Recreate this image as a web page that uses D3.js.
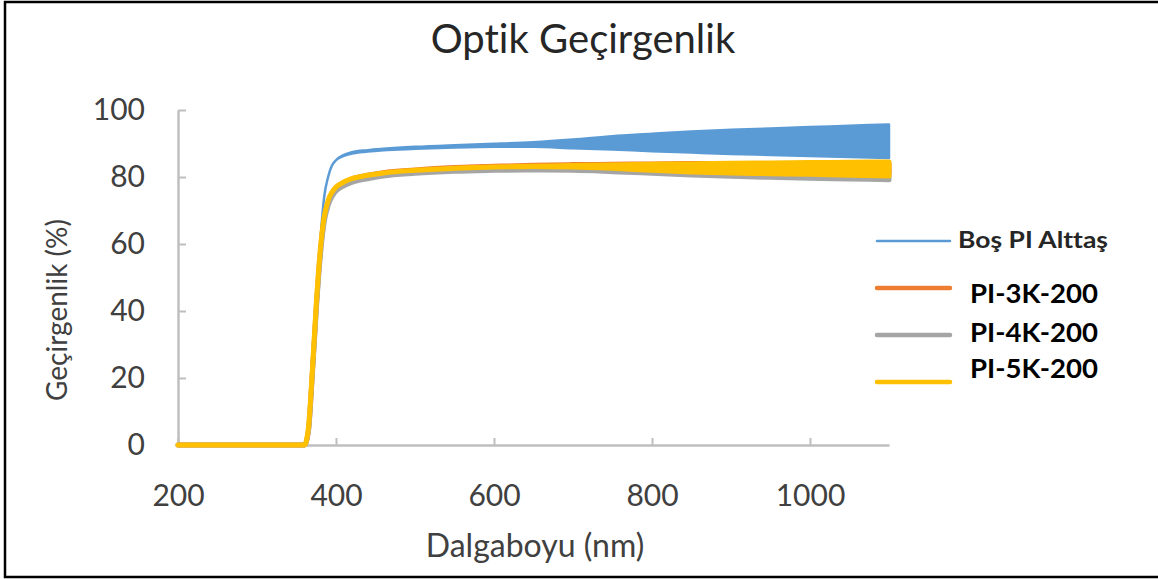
<!DOCTYPE html>
<html>
<head>
<meta charset="utf-8">
<script src="https://cdn.jsdelivr.net/npm/d3@7"></script>
<style>
  html, body { margin: 0; padding: 0; background: #fff; }
  svg { display: block; font-family: Lato, "Open Sans", sans-serif; font-variant-ligatures: none; }
</style>
</head>
<body>
<svg id="chart" width="1158" height="579"></svg>
<script>
// Wavelength samples (nm)
const wavelengths = [200, 360, 365, 370, 375, 380, 385, 390, 395, 400, 410, 420, 440, 460, 500, 550, 600, 650, 700, 750, 800, 850, 900, 950, 1000, 1050, 1100];

// Transmittance (%) as lower / upper envelope of the interference fringes
const bosLo = [0, 0, 3, 20, 40, 60, 74, 80, 83.5, 85, 86.3, 87.0, 87.6, 88.0, 88.4, 88.8, 89.0, 89.0, 88.6, 88.2, 87.7, 87.3, 86.9, 86.6, 86.3, 86.0, 85.7];
const bosHi = [0, 0, 3, 20, 40, 60, 74, 80, 83.5, 85, 86.6, 87.4, 88.0, 88.4, 89.0, 89.5, 89.9, 90.4, 91.2, 92.2, 92.9, 93.6, 94.1, 94.5, 94.9, 95.3, 95.7];

const pi3kLo = [0, 0, 4, 21, 41, 57, 67.5, 72.5, 75.2, 76.8, 78.4, 79.4, 80.5, 81.3, 82.1, 82.8, 83.2, 83.4, 83.4, 83.2, 82.8, 82.4, 82.0, 81.8, 81.6, 81.4, 81.2];
const pi3kHi = [0, 0, 4, 21, 41, 57, 67.5, 72.5, 75.2, 76.8, 78.4, 79.4, 80.5, 81.3, 82.1, 82.8, 83.2, 83.5, 83.7, 83.8, 83.9, 84.0, 84.0, 84.0, 84.0, 84.0, 84.0];

const pi4kLo = [0, 0, 4, 21, 40, 56, 66.5, 71.5, 74.2, 75.8, 77.4, 78.4, 79.5, 80.3, 81.1, 81.7, 82.0, 82.1, 82.0, 81.6, 81.1, 80.6, 80.2, 79.9, 79.6, 79.4, 79.2];
const pi4kHi = [0, 0, 4, 21, 40, 56, 66.5, 71.5, 74.2, 75.8, 77.4, 78.4, 79.5, 80.3, 81.1, 81.7, 82.0, 82.2, 82.3, 82.4, 82.4, 82.4, 82.3, 82.3, 82.2, 82.2, 82.2];

const pi5kLo = [0, 0, 5, 22, 42, 58, 68, 73, 75.5, 77, 78.5, 79.5, 80.5, 81.2, 82.0, 82.6, 83.0, 83.1, 83.0, 82.6, 82.0, 81.5, 81.2, 81.0, 80.8, 80.5, 80.3];
const pi5kHi = [0, 0, 5, 22, 42, 58, 68, 73, 75.5, 77, 78.5, 79.5, 80.5, 81.2, 82.0, 82.6, 83.0, 83.2, 83.4, 83.6, 83.8, 83.9, 84.1, 84.2, 84.3, 84.4, 84.5];

const seriesNames = ["Boş PI Alttaş", "PI-3K-200", "PI-4K-200", "PI-5K-200"];
const seriesColors = ["#5B9BD5", "#ED7D31", "#A5A5A5", "#FFC000"];
const xTicks = [200, 400, 600, 800, 1000];
const yTicks = [0, 20, 40, 60, 80, 100];

const svg = d3.select("#chart");

// Outer frame
svg.append("path")
  .attr("d", "M1158,2 L5,2 L5,577 L1158,577")
  .attr("fill", "none").attr("stroke", "#000").attr("stroke-width", 2.5);

const x = d3.scaleLinear().domain([200, 1100]).range([178, 889]);
const y = d3.scaleLinear().domain([0, 100]).range([445, 110]);

// Axes
const xAxis = svg.append("g").attr("transform", "translate(0,445)")
  .call(d3.axisBottom(x).tickValues(xTicks).tickFormat(d3.format("d"))
    .tickSizeInner(-7).tickSizeOuter(0).tickPadding(40));
const yAxis = svg.append("g").attr("transform", "translate(178,0)")
  .call(d3.axisLeft(y).tickValues(yTicks).tickFormat(d3.format("d"))
    .tickSizeInner(-8).tickSizeOuter(0).tickPadding(33));
[xAxis, yAxis].forEach(g => {
  g.select(".domain").attr("stroke", "#BFBFBF").attr("stroke-width", 2.5);
  g.selectAll(".tick line").attr("stroke", "#BFBFBF").attr("stroke-width", 2);
  g.selectAll(".tick text").attr("fill", "#404040").attr("font-size", 30)
    .attr("font-family", "Lato, 'Open Sans', sans-serif");
});
yAxis.selectAll(".tick").filter(d => d === 0).select("line").remove();

// Series: fringe envelope drawn as a filled band
const series = [
  { lo: bosLo, hi: bosHi, width: 2.5 },
  { lo: pi3kLo, hi: pi3kHi, width: 5 },
  { lo: pi4kLo, hi: pi4kHi, width: 5 },
  { lo: pi5kLo, hi: pi5kHi, width: 5 }
];
const plot = svg.append("g");
series.forEach((s, i) => {
  const pts = wavelengths.map((w, k) => ({ w, lo: s.lo[k], hi: s.hi[k] }));
  const area = d3.area().x(d => x(d.w)).y0(d => y(d.lo)).y1(d => y(d.hi)).curve(d3.curveMonotoneX);
  plot.append("path").datum(pts)
    .attr("d", area)
    .attr("fill", seriesColors[i])
    .attr("stroke", seriesColors[i])
    .attr("stroke-width", s.width)
    .attr("stroke-linejoin", "round");
});

// Title
svg.append("text").attr("x", 583).attr("y", 53).attr("text-anchor", "middle")
  .attr("font-size", 40).attr("fill", "#262626").text("Optik Geçirgenlik");

// Axis titles
svg.append("text").attr("x", 535).attr("y", 557).attr("text-anchor", "middle")
  .attr("font-size", 32).attr("fill", "#404040").text("Dalgaboyu (nm)");
svg.append("text").attr("transform", "translate(67,310) rotate(-90)").attr("text-anchor", "middle")
  .attr("font-size", 28).attr("fill", "#404040").text("Geçirgenlik (%)");

// Legend
const legendRows = [
  { ly: 241, ty: 248, tx: 958, size: 23, lw: 2.5, len: 150 },
  { ly: 288, ty: 303, tx: 970, size: 27, lw: 4.5, len: 128 },
  { ly: 335, ty: 342, tx: 970, size: 27, lw: 4.5, len: 128 },
  { ly: 382, ty: 378, tx: 970, size: 27, lw: 4.5, len: 128 }
];
legendRows.forEach((r, i) => {
  svg.append("line").attr("x1", 877).attr("x2", 950).attr("y1", r.ly).attr("y2", r.ly)
    .attr("stroke", seriesColors[i]).attr("stroke-width", r.lw).attr("stroke-linecap", "round");
  svg.append("text").attr("x", r.tx).attr("y", r.ty).attr("font-size", r.size)
    .attr("font-weight", "bold").attr("fill", i === 0 ? "#262626" : "#000")
    .attr("textLength", r.len).attr("lengthAdjust", "spacingAndGlyphs")
    .text(seriesNames[i]);
});
</script>
</body>
</html>
